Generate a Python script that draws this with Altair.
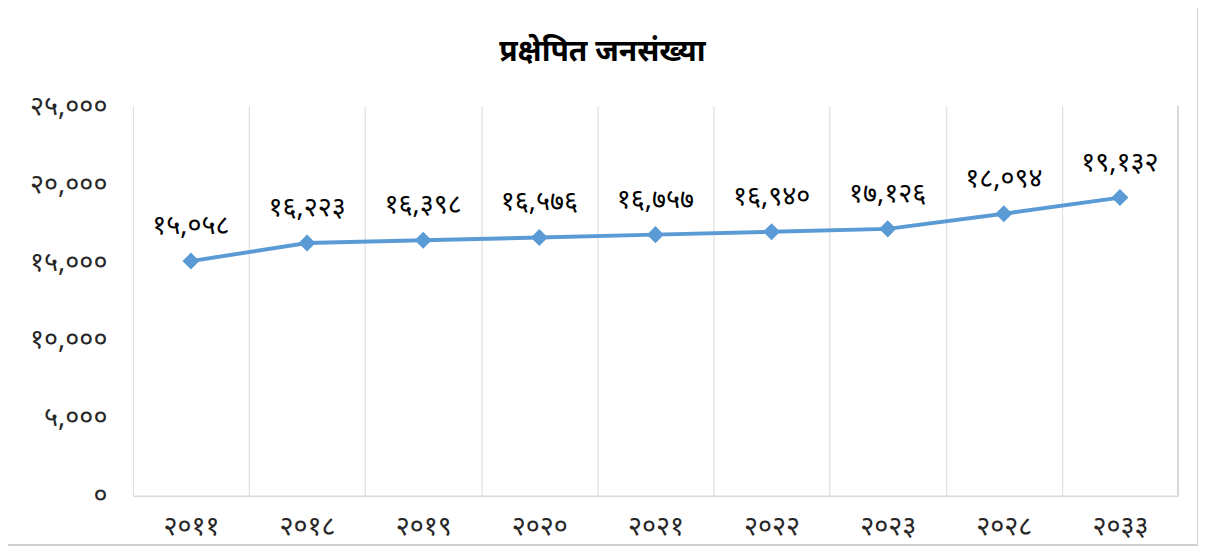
import altair as alt
import pandas as pd

years = ["२०११", "२०१८", "२०१९", "२०२०", "२०२१", "२०२२", "२०२३", "२०२८", "२०३३"]
population = [15058, 16223, 16398, 16576, 16757, 16940, 17126, 18094, 19132]
value_labels = ["१५,०५८", "१६,२२३", "१६,३९८", "१६,५७६", "१६,७५७", "१६,९४०", "१७,१२६", "१८,०९४", "१९,१३२"]
y_ticks = [0, 5000, 10000, 15000, 20000, 25000]
y_tick_labels = ["०", "५,०००", "१०,०००", "१५,०००", "२०,०००", "२५,०००"]
title_text = "प्रक्षेपित जनसंख्या"

df = pd.DataFrame({"year": years, "pop": population, "label": value_labels})
title_df = pd.DataFrame({"t": [title_text]})

W, H = 1046, 390
FONT = "Noto Sans"
GRID = "#D9D9D9"
BLUE = "#5B9BD5"
FS = 27

label_expr = " : ".join(
    f"datum.value == {v} ? '{t}'" for v, t in zip(y_ticks, y_tick_labels)
) + " : ''"

x_enc = alt.X(
    "year:N", sort=years, title=None,
    scale=alt.Scale(paddingInner=0, paddingOuter=0),
    axis=alt.Axis(
        tickBand="extent", grid=True, gridColor=GRID, gridWidth=1,
        ticks=False, domainColor=GRID, domainWidth=1.5,
        labelAngle=0, labelFontSize=FS, labelFont=FONT, labelColor="#262626",
        labelFontWeight="normal", labelPadding=18,
    ),
)
y_enc = alt.Y(
    "pop:Q", title=None,
    scale=alt.Scale(domain=[0, 25000], nice=False),
    axis=alt.Axis(
        values=y_ticks, labelExpr=label_expr, grid=False, ticks=False, domain=False,
        labelFontSize=FS, labelFont=FONT, labelColor="#262626", labelPadding=26,
        labelFontWeight="normal",
    ),
)

base = alt.Chart(df)

line = base.mark_line(color=BLUE, strokeWidth=4).encode(x=x_enc, y=y_enc)
points = base.mark_point(shape="diamond", filled=True, color=BLUE, size=290, opacity=1).encode(
    x=alt.X("year:N", sort=years), y="pop:Q"
)
texts = base.mark_text(dy=-35, fontSize=FS, font=FONT, color="#000000", fontWeight="normal").encode(
    x=alt.X("year:N", sort=years), y="pop:Q", text="label:N"
)
right_edge = base.mark_rule(color=GRID, strokeWidth=1).encode(
    x=alt.value(W), y=alt.value(0), y2=alt.value(H)
)
border = base.mark_rect(fill=None, stroke="#D0D0D0", strokeWidth=1.5).encode(
    x=alt.value(-126), x2=alt.value(W + 20), y=alt.value(-99), y2=alt.value(H + 49)
)
title = alt.Chart(title_df).mark_text(
    fontSize=30, font=FONT, fontWeight="bold", color="#000000", align="center", baseline="middle"
).encode(x=alt.value(470), y=alt.value(-54), text="t:N")

chart = alt.layer(border, right_edge, line, points, texts, title).properties(
    width=W, height=H,
    padding={"left": 125, "top": 98, "right": 20, "bottom": 50},
    autosize=alt.AutoSizeParams(type="none"),
).configure_view(stroke=None)

chart.save("out.html", embed_options={"renderer": "svg", "actions": False})
